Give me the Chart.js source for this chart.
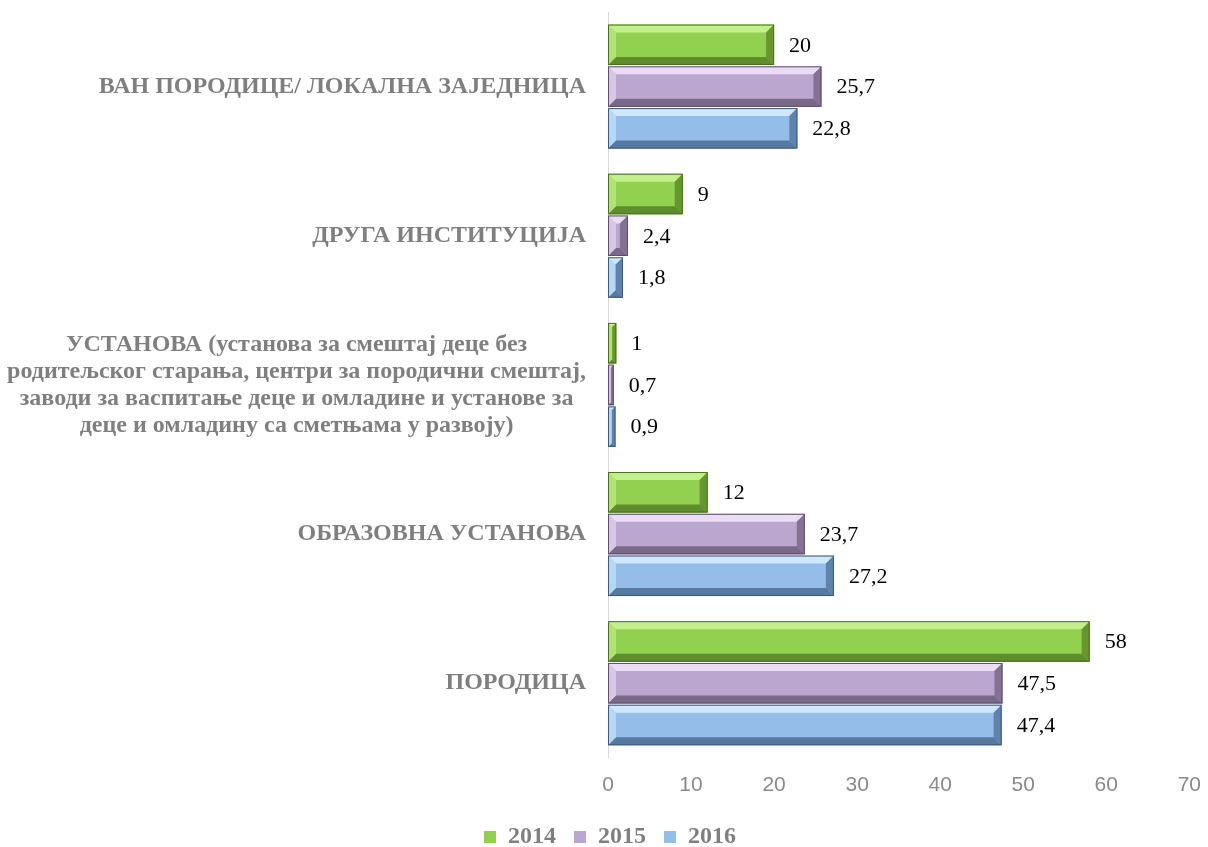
<!DOCTYPE html>
<html>
<head>
<meta charset="utf-8">
<script src="https://cdn.jsdelivr.net/npm/chart.js@4"></script>
<style>
  html, body { margin: 0; padding: 0; background: #fff; }
  #wrap { width: 1208px; height: 847px; }
</style>
</head>
<body>
<div id="wrap"><canvas id="mainChart" width="1208" height="847"></canvas></div>
<script>
var categories = [
  'ВАН ПОРОДИЦЕ/ ЛОКАЛНА ЗАЈЕДНИЦА',
  'ДРУГА ИНСТИТУЦИЈА',
  ['УСТАНОВА (установа за смештај деце без',
   'родитељског старања, центри за породични смештај,',
   'заводи за васпитање деце и омладине и установе за',
   'деце и омладину са сметњама у развоју)'],
  'ОБРАЗОВНА УСТАНОВА',
  'ПОРОДИЦА'
];
var years = ['2014', '2015', '2016'];
var val2014 = [20, 9, 1, 12, 58];
var val2015 = [25.7, 2.4, 0.7, 23.7, 47.5];
var val2016 = [22.8, 1.8, 0.9, 27.2, 47.4];
var xTicks = [0, 10, 20, 30, 40, 50, 60, 70];

// mid, light, dark, border per series
var palette = [
  { mid: '#92d050', light: '#c4f08c', dark: '#5f8c2c', border: '#4b6e22' },
  { mid: '#bba6cf', light: '#eadcf5', dark: '#7a6888', border: '#5d5068' },
  { mid: '#95bdea', light: '#cfe8ff', dark: '#56799f', border: '#3f5a78' }
];

var labelFont = 'bold 24px "Liberation Serif", "Times New Roman", serif';
var labelColor = '#7f7f7f';

// bevel look on every bar
var bevelPlugin = {
  id: 'bevel',
  afterDatasetsDraw: function(chart) {
    var ctx = chart.ctx;
    chart.data.datasets.forEach(function(ds, di) {
      var meta = chart.getDatasetMeta(di);
      var c = palette[di];
      meta.data.forEach(function(bar) {
        var x0 = bar.base, x1 = bar.x;
        var y0 = bar.y - bar.height / 2, y1 = bar.y + bar.height / 2;
        var w = x1 - x0;
        var b = Math.min(8, w / 2, bar.height / 3);
        if (w < 1) return;
        ctx.save();
        // top
        ctx.fillStyle = c.light;
        ctx.beginPath();
        ctx.moveTo(x0, y0); ctx.lineTo(x1, y0); ctx.lineTo(x1 - b, y0 + b); ctx.lineTo(x0 + b, y0 + b);
        ctx.closePath(); ctx.fill();
        // bottom
        ctx.fillStyle = c.dark;
        ctx.beginPath();
        ctx.moveTo(x0, y1); ctx.lineTo(x1, y1); ctx.lineTo(x1 - b, y1 - b); ctx.lineTo(x0 + b, y1 - b);
        ctx.closePath(); ctx.fill();
        // right end
        ctx.globalAlpha = 0.85;
        ctx.beginPath();
        ctx.moveTo(x1, y0); ctx.lineTo(x1, y1); ctx.lineTo(x1 - b, y1 - b); ctx.lineTo(x1 - b, y0 + b);
        ctx.closePath(); ctx.fill();
        // left end
        ctx.fillStyle = c.light;
        ctx.globalAlpha = 0.6;
        ctx.beginPath();
        ctx.moveTo(x0, y0); ctx.lineTo(x0, y1); ctx.lineTo(x0 + b, y1 - b); ctx.lineTo(x0 + b, y0 + b);
        ctx.closePath(); ctx.fill();
        ctx.globalAlpha = 1;
        ctx.strokeStyle = c.border;
        ctx.lineWidth = 1;
        ctx.strokeRect(x0 + 0.5, y0 + 0.5, w - 1, bar.height - 1);
        ctx.restore();
      });
    });
  }
};

// value labels + category labels
var labelsPlugin = {
  id: 'textLabels',
  afterDraw: function(chart) {
    var ctx = chart.ctx;
    ctx.save();
    ctx.font = '22px "Liberation Serif", "Times New Roman", serif';
    ctx.fillStyle = '#000';
    ctx.textAlign = 'left';
    ctx.textBaseline = 'middle';
    chart.data.datasets.forEach(function(ds, di) {
      chart.getDatasetMeta(di).data.forEach(function(bar, i) {
        ctx.fillText(String(ds.data[i]).replace('.', ','), bar.x + 15, bar.y + 1);
      });
    });

    var yScale = chart.scales.y;
    var right = chart.chartArea.left - 22;
    ctx.font = labelFont;
    ctx.fillStyle = labelColor;
    categories.forEach(function(lab, i) {
      var yc = yScale.getPixelForTick(i);
      if (Array.isArray(lab)) {
        var maxW = 0;
        lab.forEach(function(l) { maxW = Math.max(maxW, ctx.measureText(l).width); });
        var cx = right - maxW / 2;
        var lh = 27;
        ctx.textAlign = 'center';
        lab.forEach(function(l, k) {
          ctx.fillText(l, cx, yc + (k - (lab.length - 1) / 2) * lh);
        });
      } else {
        ctx.textAlign = 'right';
        ctx.fillText(lab, right, yc);
      }
    });
    ctx.restore();
  }
};

// nudge the legend a little right and down
var legendShift = {
  id: 'legendShift',
  afterLayout: function(chart) {
    var lg = chart.legend;
    if (!lg) return;
    lg.left += 15; lg.right += 15;
    lg.top += 2; lg.bottom += 2;
  }
};

var datasets = [val2014, val2015, val2016].map(function(arr, di) {
  return {
    label: years[di],
    data: arr,
    backgroundColor: palette[di].mid,
    borderColor: palette[di].border,
    borderWidth: 0,
    barPercentage: 0.97,
    categoryPercentage: 0.84
  };
});

var chart = new Chart(document.getElementById('mainChart'), {
  type: 'bar',
  data: { labels: categories, datasets: datasets },
  options: {
    indexAxis: 'y',
    responsive: false,
    animation: false,
    layout: { padding: { top: 12, right: 18, bottom: -10, left: 0 } },
    scales: {
      x: {
        min: 0, max: 70,
        afterBuildTicks: function(scale) {
          scale.ticks = xTicks.map(function(v) { return { value: v }; });
        },
        grid: { display: false },
        border: { display: false },
        ticks: {
          color: '#898989',
          padding: 7,
          font: { family: '"Liberation Sans", Arial, sans-serif', size: 21 }
        }
      },
      y: {
        grid: { display: false, drawTicks: false },
        border: { display: true, color: '#d9d9d9', width: 1 },
        ticks: { display: false },
        afterFit: function(scale) { scale.width = 608; }
      }
    },
    plugins: {
      legend: {
        position: 'bottom',
        labels: {
          boxWidth: 12,
          boxHeight: 12,
          padding: 18,
          color: labelColor,
          font: { family: '"Liberation Serif", "Times New Roman", serif', size: 24, weight: 'bold' }
        }
      },
      tooltip: { enabled: false }
    }
  },
  plugins: [bevelPlugin, labelsPlugin, legendShift]
});
</script>
</body>
</html>
